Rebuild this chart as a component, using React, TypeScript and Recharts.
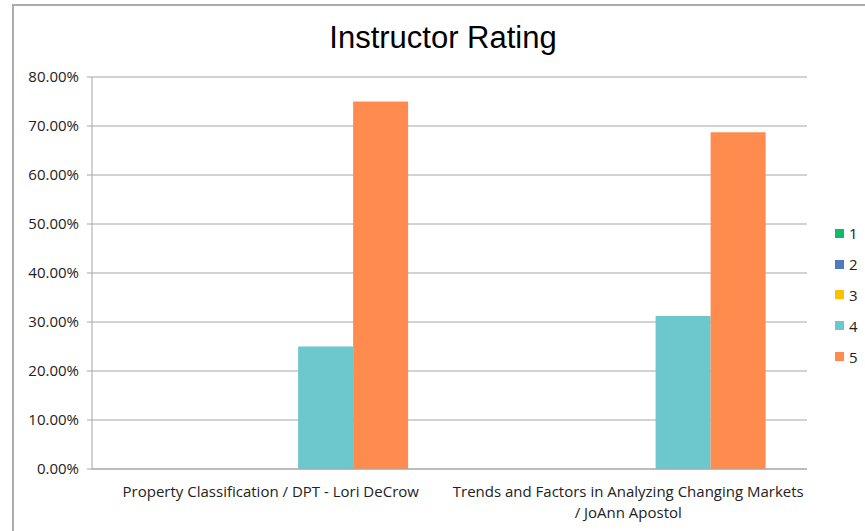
import React from "react";
import { BarChart, Bar, XAxis, YAxis, CartesianGrid } from "recharts";

const title = "Instructor Rating";
const categories = [
  "Property Classification / DPT - Lori DeCrow",
  "Trends and Factors in Analyzing Changing Markets / JoAnn Apostol",
];
const categoryLines = [
  ["Property Classification / DPT - Lori DeCrow"],
  ["Trends and Factors in Analyzing Changing Markets", "/ JoAnn Apostol"],
];
const seriesNames = ["1", "2", "3", "4", "5"];
const seriesColors = ["#10BC6C", "#4F7BBE", "#FFC000", "#6CC8CC", "#FF8B4F"];
const rating1 = [0, 0];
const rating2 = [0, 0];
const rating3 = [0, 0];
const rating4 = [0.25, 0.3125];
const rating5 = [0.75, 0.6875];
const yTicks = [0, 0.1, 0.2, 0.3, 0.4, 0.5, 0.6, 0.7, 0.8];
const boundaryTicks = [0, 1, 2];

const seriesValues = [rating1, rating2, rating3, rating4, rating5];
const data = categories.map((c, i) => {
  const row: Record<string, any> = { name: c, idx: i };
  seriesNames.forEach((s, k) => {
    row["r" + s] = seriesValues[k][i];
  });
  return row;
});

const FONT = "'Open Sans', Lato, sans-serif";
const GRID = "#A6A6A6";
const FS = 15;

const CatTick = (props: any) => {
  const { x, y, payload } = props;
  const lines = categoryLines[payload.index] || [String(payload.value)];
  return (
    <text x={x} y={y} textAnchor="middle" fill="#222" fontSize={FS} fontFamily={FONT}>
      {lines.map((l, i) => (
        <tspan key={i} x={x} dy={i === 0 ? 21.5 : 21}>
          {l}
        </tspan>
      ))}
    </text>
  );
};

export default function App() {
  return (
    <div style={{ position: "absolute", left: 0, top: 0, width: 865, height: 531, background: "#fff", overflow: "hidden" }}>
      <div
        style={{
          position: "absolute",
          left: 12,
          top: 4,
          width: 900,
          height: 600,
          borderTop: "2px solid #ADADAD",
          borderLeft: "2px solid #ADADAD",
        }}
      />
      <div
        style={{
          position: "absolute",
          left: 0,
          width: 886,
          top: 19,
          textAlign: "center",
          fontFamily: "'Liberation Sans', Arial, sans-serif",
          fontSize: 31,
          lineHeight: "38px",
          color: "#000",
        }}
      >
        {title}
      </div>
      <div style={{ position: "absolute", left: 0, top: 0 }}>
        <BarChart
          width={865}
          height={531}
          data={data}
          margin={{ top: 77, right: 58, bottom: 0, left: 12 }}
          barCategoryGap="11.5%"
          barGap={0}
        >
          <CartesianGrid vertical={false} stroke={GRID} strokeWidth={1} />
          <XAxis
            xAxisId="sep"
            type="number"
            domain={[0, 2]}
            ticks={boundaryTicks}
            tick={false}
            axisLine={false}
            tickLine={{ stroke: GRID }}
            tickSize={5}
            height={0}
            allowDataOverflow
          />
          <XAxis
            xAxisId="cat"
            dataKey="name"
            tick={<CatTick />}
            tickLine={false}
            axisLine={{ stroke: GRID }}
            height={62}
            interval={0}
            tickMargin={0}
          />
          <YAxis
            domain={[0, 0.8]}
            ticks={yTicks}
            tickFormatter={(v: number) => (v * 100).toFixed(2) + "%"}
            width={80}
            axisLine={{ stroke: GRID }}
            tickLine={{ stroke: GRID }}
            tickSize={5}
            tickMargin={8}
            tick={{ fill: "#222", fontSize: FS, fontFamily: FONT }}
            interval={0}
          />
          {seriesNames.map((s, k) => (
            <Bar
              key={s}
              xAxisId="cat"
              dataKey={"r" + s}
              name={s}
              fill={seriesColors[k]}
              isAnimationActive={false}
            />
          ))}
        </BarChart>
      </div>
      <div style={{ position: "absolute", left: 835, top: 218, fontFamily: FONT, fontSize: FS, color: "#222" }}>
        {seriesNames.map((s, k) => (
          <div key={s} style={{ display: "flex", alignItems: "center", height: 30.8 }}>
            <span style={{ display: "inline-block", width: 9, height: 9, background: seriesColors[k], marginRight: 5 }} />
            <span>{s}</span>
          </div>
        ))}
      </div>
    </div>
  );
}
